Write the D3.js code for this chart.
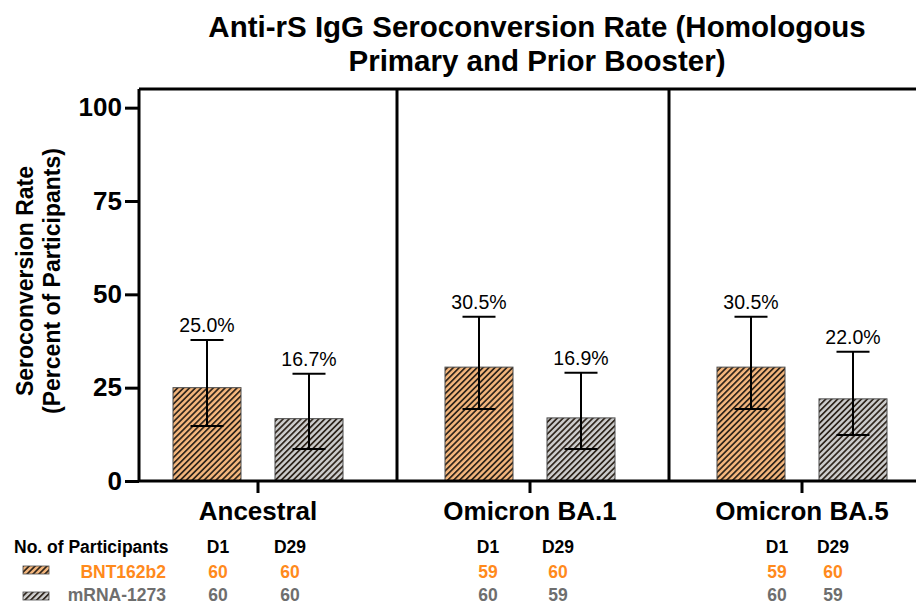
<!DOCTYPE html>
<html>
<head>
<meta charset="utf-8">
<script src="https://cdn.jsdelivr.net/npm/d3@7"></script>
<style>
  body { margin: 0; background: #fff; }
  svg { display: block; font-family: "Liberation Sans", Arial, sans-serif; }
</style>
</head>
<body>
<svg id="chart" width="916" height="604"></svg>
<script>
// data
var variants = ["Ancestral", "Omicron BA.1", "Omicron BA.5"];
var vaccines = ["BNT162b2", "mRNA-1273"];
var rateBNT = [25.0, 30.5, 30.5];
var rateMRNA = [16.7, 16.9, 22.0];
var ciLowBNT = [14.7, 19.3, 19.3];
var ciHighBNT = [37.8, 44.0, 44.0];
var ciLowMRNA = [8.6, 8.6, 12.3];
var ciHighMRNA = [28.7, 29.0, 34.6];
var nBNT = [[60, 60], [59, 60], [59, 60]]; // D1, D29
var nMRNA = [[60, 60], [60, 59], [60, 59]];
var visits = ["D1", "D29"];
var yTicks = [0, 25, 50, 75, 100];

// layout
var axisLeft = 139, axisBottom = 481, plotTop = 89, plotRight = 916;
var barW = 68, capW = 33;
var colOffsets = [[-40, 32], [-42, 28], [-25, 31]]; // table column offsets per panel
var orange = "#F5B77D", gray = "#CDCDCD";
var orangeText = "#FF8A1C", grayText = "#6E6E6E";

var svg = d3.select("#chart");

var defs = svg.append("defs");
function hatch(id, fill) {
    var p = defs.append("pattern")
        .attr("id", id)
        .attr("patternUnits", "userSpaceOnUse")
        .attr("width", 4.2)
        .attr("height", 4.2)
        .attr("patternTransform", "rotate(45)");
    p.append("rect").attr("width", 4.2).attr("height", 4.2).attr("fill", fill);
    p.append("line").attr("x1", 0.9).attr("x2", 0.9).attr("y1", 0).attr("y2", 4.2)
        .attr("stroke", "#2b2118").attr("stroke-width", 1.7);
}
hatch("hatchOrange", orange);
hatch("hatchGray", gray);

var y = d3.scaleLinear().domain([0, 105]).range([axisBottom, plotTop]);
var x = d3.scaleBand().domain(variants).range([122, 938]).padding(0);
var xi = d3.scalePoint().domain(vaccines).range([-51, 51]);

// title
var title = svg.append("text")
    .attr("text-anchor", "middle")
    .attr("font-weight", "bold")
    .attr("font-size", 29.5)
    .attr("fill", "#000");
title.append("tspan").attr("x", 537).attr("y", 37).text("Anti-rS IgG Seroconversion Rate (Homologous");
title.append("tspan").attr("x", 537).attr("y", 71).text("Primary and Prior Booster)");

// y axis label
var yl = svg.append("text")
    .attr("transform", "translate(0,281) rotate(-90)")
    .attr("text-anchor", "middle")
    .attr("font-weight", "bold")
    .attr("font-size", 23);
yl.append("tspan").attr("x", 0).attr("y", 33).text("Seroconversion Rate");
yl.append("tspan").attr("x", 0).attr("y", 60).text("(Percent of Participants)");

// bars
var rows = variants.map(function(v, i) {
    return [
        { variant: v, vaccine: vaccines[0], rate: rateBNT[i], lo: ciLowBNT[i], hi: ciHighBNT[i], fill: "url(#hatchOrange)" },
        { variant: v, vaccine: vaccines[1], rate: rateMRNA[i], lo: ciLowMRNA[i], hi: ciHighMRNA[i], fill: "url(#hatchGray)" }
    ];
}).flat();

function cx(d) { return x(d.variant) + x.bandwidth() / 2 + xi(d.vaccine); }

svg.append("g").selectAll("rect")
    .data(rows)
    .enter()
    .append("rect")
    .attr("x", function(d) { return cx(d) - barW / 2; })
    .attr("y", function(d) { return y(d.rate); })
    .attr("width", barW)
    .attr("height", function(d) { return axisBottom - y(d.rate); })
    .attr("fill", function(d) { return d.fill; })
    .attr("stroke", "#4a4a4a")
    .attr("stroke-width", 1);

// error bars
var eb = svg.append("g").attr("stroke", "#000").attr("stroke-width", 2);
rows.forEach(function(d) {
    var c = cx(d);
    eb.append("line").attr("x1", c).attr("x2", c).attr("y1", y(d.lo)).attr("y2", y(d.hi));
    eb.append("line").attr("x1", c - capW / 2).attr("x2", c + capW / 2).attr("y1", y(d.lo)).attr("y2", y(d.lo));
    eb.append("line").attr("x1", c - capW / 2).attr("x2", c + capW / 2).attr("y1", y(d.hi)).attr("y2", y(d.hi));
});

// value labels
svg.append("g").selectAll("text")
    .data(rows)
    .enter()
    .append("text")
    .attr("x", cx)
    .attr("y", function(d) { return y(d.hi) - 8; })
    .attr("text-anchor", "middle")
    .attr("font-size", 19.5)
    .text(function(d) { return d.rate.toFixed(1) + "%"; });

// frame: top line and panel dividers
var frame = svg.append("g").attr("stroke", "#000").attr("stroke-width", 3);
frame.append("line").attr("x1", axisLeft).attr("x2", plotRight).attr("y1", plotTop).attr("y2", plotTop);
variants.slice(1).forEach(function(v) {
    var xd = x(v) + 3;
    frame.append("line").attr("x1", xd).attr("x2", xd).attr("y1", plotTop).attr("y2", axisBottom);
});

// y axis
var yAxis = svg.append("g")
    .attr("transform", "translate(" + axisLeft + ",0)")
    .call(d3.axisLeft(y).tickValues(yTicks).tickSize(14).tickPadding(3));
yAxis.select(".domain").attr("d", "M0," + axisBottom + "V" + plotTop).attr("stroke-width", 3);
yAxis.selectAll(".tick line").attr("stroke-width", 3);
yAxis.selectAll(".tick text")
    .attr("font-family", "Liberation Sans, Arial, sans-serif")
    .attr("font-weight", "bold")
    .attr("font-size", 26)
    .attr("fill", "#000");

// x axis
var xAxis = svg.append("g")
    .attr("transform", "translate(0," + axisBottom + ")")
    .call(d3.axisBottom(x).tickSize(12).tickPadding(9));
xAxis.select(".domain").attr("d", "M" + axisLeft + ",0H" + plotRight).attr("stroke-width", 3);
xAxis.selectAll(".tick line").attr("stroke-width", 3);
xAxis.selectAll(".tick text")
    .attr("font-family", "Liberation Sans, Arial, sans-serif")
    .attr("font-weight", "bold")
    .attr("font-size", 26)
    .attr("fill", "#000");

// participants table
var tbl = svg.append("g").attr("font-weight", "bold").attr("font-size", 17.5);
tbl.append("text").attr("x", 14).attr("y", 553).text("No. of Participants");
tbl.append("text").attr("x", 166).attr("y", 578).attr("text-anchor", "end").attr("fill", orangeText).text(vaccines[0]);
tbl.append("text").attr("x", 166).attr("y", 601).attr("text-anchor", "end").attr("fill", grayText).text(vaccines[1]);
tbl.append("rect").attr("x", 23).attr("y", 566).attr("width", 26).attr("height", 8)
    .attr("fill", "url(#hatchOrange)").attr("stroke", "#4a4a4a").attr("stroke-width", 0.8);
tbl.append("rect").attr("x", 23).attr("y", 592).attr("width", 26).attr("height", 8)
    .attr("fill", "url(#hatchGray)").attr("stroke", "#4a4a4a").attr("stroke-width", 0.8);

variants.forEach(function(v, i) {
    var c = x(v) + x.bandwidth() / 2;
    visits.forEach(function(vis, j) {
        var tx = c + colOffsets[i][j];
        tbl.append("text").attr("x", tx).attr("y", 553).attr("text-anchor", "middle").text(vis);
        tbl.append("text").attr("x", tx).attr("y", 578).attr("text-anchor", "middle").attr("fill", orangeText).text(nBNT[i][j]);
        tbl.append("text").attr("x", tx).attr("y", 601).attr("text-anchor", "middle").attr("fill", grayText).text(nMRNA[i][j]);
    });
});
</script>
</body>
</html>
